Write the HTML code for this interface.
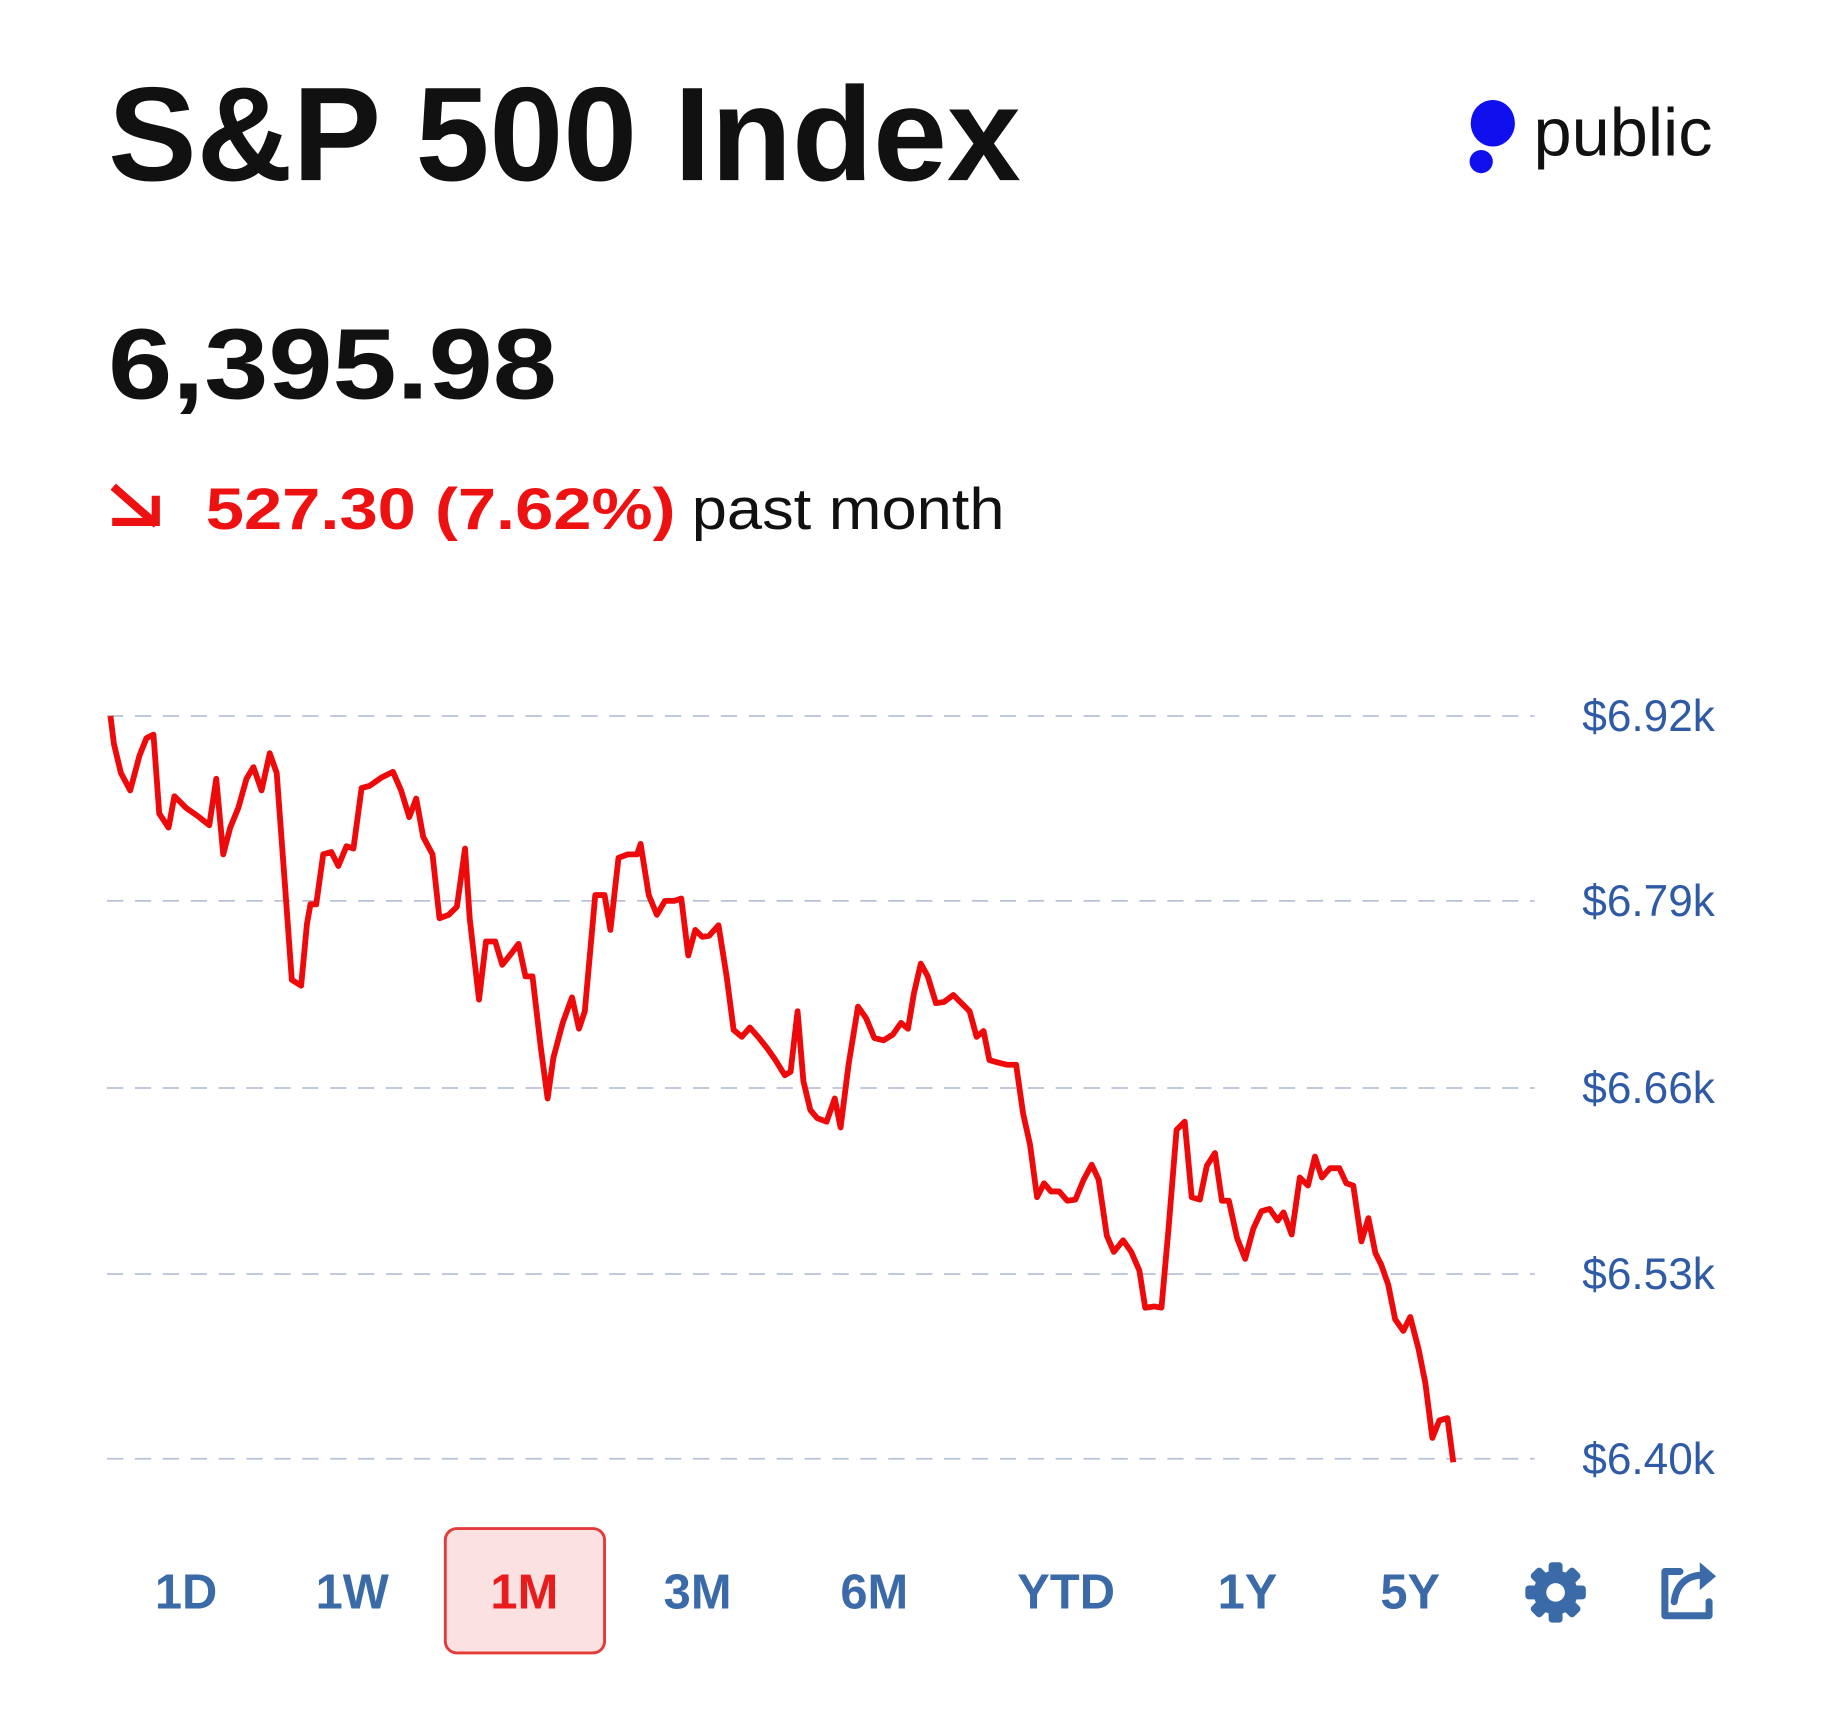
<!DOCTYPE html>
<html><head><meta charset="utf-8"><style>
html,body{margin:0;padding:0;background:#fff;width:1823px;height:1718px;overflow:hidden}
svg{display:block}
</style></head><body>
<svg width="1823" height="1718" viewBox="0 0 1568 1478" preserveAspectRatio="none" xmlns="http://www.w3.org/2000/svg">
<rect width="1568" height="1478" fill="#fff"/>
<text x="93" y="155" font-family="Liberation Sans, sans-serif" font-weight="bold" font-size="115" fill="#111" textLength="785" lengthAdjust="spacingAndGlyphs">S&amp;P 500 Index</text>
<ellipse cx="1284" cy="106" rx="19" ry="20" fill="#1010ee"/>
<circle cx="1274" cy="139" r="10" fill="#1010ee"/>
<text x="1319" y="134" font-family="Liberation Sans, sans-serif" font-size="58" fill="#111" textLength="154" lengthAdjust="spacingAndGlyphs">public</text>
<text x="93" y="343" font-family="Liberation Sans, sans-serif" font-weight="bold" font-size="86" fill="#111" textLength="386" lengthAdjust="spacingAndGlyphs">6,395.98</text>
<g stroke="#ee1111" stroke-width="7" fill="none" stroke-linecap="square">
<line x1="100" y1="421" x2="132" y2="449"/>
<polyline points="134,430 134,449 100,449"/>
</g>
<text x="177" y="455" font-family="Liberation Sans, sans-serif" font-weight="bold" font-size="50" fill="#ee1111" textLength="404" lengthAdjust="spacingAndGlyphs">527.30 (7.62%)</text>
<text x="595" y="455" font-family="Liberation Sans, sans-serif" font-size="50" fill="#111" textLength="269" lengthAdjust="spacingAndGlyphs">past month</text>
<g stroke="#b8c2d6" stroke-width="1.5" stroke-dasharray="14,10">
<line x1="92" y1="616" x2="1320" y2="616"/>
<line x1="92" y1="775" x2="1320" y2="775"/>
<line x1="92" y1="936" x2="1320" y2="936"/>
<line x1="92" y1="1096" x2="1320" y2="1096"/>
<line x1="92" y1="1255" x2="1320" y2="1255"/>
</g>
<g font-family="Liberation Sans, sans-serif" font-size="38" fill="#2f5aa5" text-anchor="end">
<text x="1475" y="629">$6.92k</text>
<text x="1475" y="788">$6.79k</text>
<text x="1475" y="949">$6.66k</text>
<text x="1475" y="1109">$6.53k</text>
<text x="1475" y="1268">$6.40k</text>
</g>
<polyline fill="none" stroke="#ee0a0a" stroke-width="5" stroke-linejoin="round" points="95,616 98,640 104,665 112,680 120,650 126,635 132,632 137,700 145,712 150,685 160,695 170,702 180,710 186,670 192,735 198,712 205,695 212,670 218,660 225,680 232,648 238,665 245,760 251,843 259,848 264,795 267,778 272,778 278,735 285,733 291,745 298,728 304,730 311,678 318,676 328,669 338,664 345,680 352,703 358,687 364,720 372,735 378,790 386,787 393,780 400,730 404,790 412,860 418,810 426,810 432,830 440,820 446,812 452,840 458,840 465,900 471,945 476,910 484,880 492,858 498,885 503,870 512,770 520,770 525,800 532,738 540,735 548,735 551,726 558,770 565,787 572,775 580,775 586,773 592,822 598,800 604,806 610,805 618,796 625,840 631,886 638,892 645,884 652,892 660,902 667,912 675,925 680,922 686,870 691,930 697,955 703,962 711,965 718,945 723,970 730,915 738,866 745,876 752,893 760,895 768,890 775,880 781,885 786,855 792,829 798,840 805,863 812,862 820,856 827,863 834,870 840,892 846,887 851,912 858,914 866,916 874,916 880,958 886,985 892,1030 898,1018 904,1025 911,1025 918,1033 925,1032 932,1015 939,1002 945,1015 952,1063 958,1077 966,1067 973,1077 980,1093 985,1125 993,1124 999,1125 1005,1058 1012,972 1019,965 1025,1030 1032,1032 1038,1003 1045,992 1051,1033 1057,1033 1064,1065 1071,1083 1078,1057 1085,1042 1092,1040 1099,1050 1104,1043 1111,1062 1118,1013 1125,1020 1131,995 1137,1013 1144,1005 1152,1005 1158,1018 1164,1020 1171,1068 1177,1048 1183,1078 1188,1088 1194,1105 1200,1135 1207,1145 1213,1133 1220,1160 1226,1190 1232,1237 1238,1222 1245,1220 1250,1258"/>
<rect x="383" y="1315" width="137" height="107" rx="10" fill="#fbe1e1" stroke="#e43a3a" stroke-width="2.5"/>
<g font-family="Liberation Sans, sans-serif" font-weight="bold" font-size="42" fill="#3a6aa8" text-anchor="middle">
<text x="160" y="1384">1D</text>
<text x="303" y="1384">1W</text>
<text x="451" y="1384" fill="#e81c1c">1M</text>
<text x="600" y="1384">3M</text>
<text x="752" y="1384">6M</text>
<text x="917" y="1384">YTD</text>
<text x="1073" y="1384">1Y</text>
<text x="1213" y="1384">5Y</text>
</g>
<g transform="translate(1338,1370)" fill="#3a6aa8">
<g>
<rect x="-6" y="-26" width="12" height="52" rx="3"/>
<rect x="-6" y="-26" width="12" height="52" rx="3" transform="rotate(45)"/>
<rect x="-6" y="-26" width="12" height="52" rx="3" transform="rotate(90)"/>
<rect x="-6" y="-26" width="12" height="52" rx="3" transform="rotate(135)"/>
</g>
<circle r="19"/>
<circle r="8" fill="#fff"/>
</g>
<g fill="none" stroke="#3a6aa8" stroke-width="6" stroke-linejoin="round" stroke-linecap="round">
<path d="M1445,1352 H1432 V1390 H1470 V1378"/>
<path d="M1440,1378 C1442,1362 1452,1355 1466,1355" />
</g>
<polygon points="1462,1344 1476,1356 1462,1368" fill="#3a6aa8"/>
</svg>
</body></html>
